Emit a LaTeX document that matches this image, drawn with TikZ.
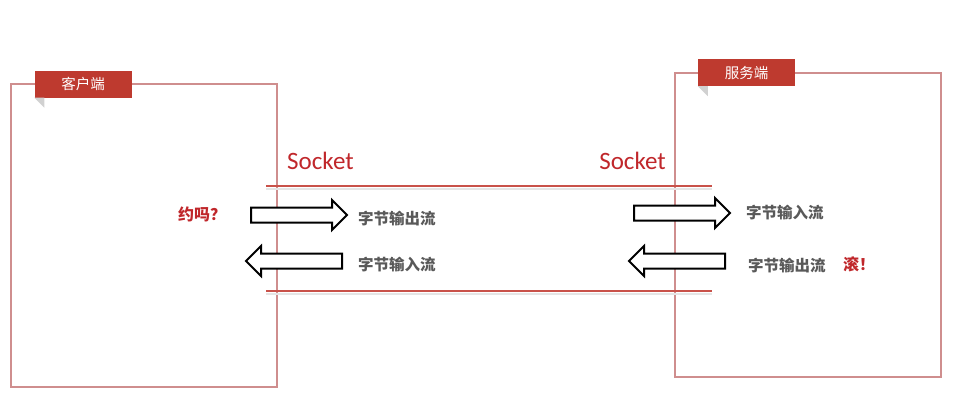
\documentclass[tikz,border=0pt]{standalone}
\usepackage{fontspec}
\setmainfont{Carlito}
\newfontfamily\cjk{Noto Sans CJK SC}
\usetikzlibrary{shapes.arrows}

\definecolor{tagred}{HTML}{BE3A2F}
\definecolor{sockred}{HTML}{C0272B}
\definecolor{linered}{HTML}{C9524A}
\definecolor{panelred}{HTML}{CF8E8E}
\definecolor{textgray}{HTML}{595959}

\tikzstyle{panel}=[draw=panelred,line width=1.2pt,inner sep=0pt]
\tikzstyle{tag}=[fill=tagred,text=white,font=\cjk\fontsize{14.5}{14.5}\selectfont,minimum width=97pt,minimum height=27pt,inner sep=0pt]
\tikzstyle{fold}=[fill=black!18]
\tikzstyle{socket line}=[draw=linered,line width=2.5pt]
\tikzstyle{socket shadow}=[draw=black!10,line width=2pt]
\tikzstyle{socket}=[text=sockred,font=\fontsize{25}{25}\selectfont,inner sep=0pt]
\tikzstyle{flow}=[single arrow,draw=black,line width=2pt,fill=white,minimum height=96pt,minimum width=30pt,text height=6pt,text depth=6pt,single arrow head extend=7pt,inner sep=0pt,anchor=tail]
\tikzstyle{stream}=[text=textgray,font=\cjk\bfseries\fontsize{15.5}{15.5}\selectfont,inner sep=0pt,anchor=west]
\tikzstyle{talk}=[text=sockred,font=\cjk\bfseries\fontsize{16}{16}\selectfont,inner sep=0pt]

\begin{document}
\begin{tikzpicture}[x=1pt,y=-1pt]
		\useasboundingbox (0,0) rectangle (960,400);
		% the two hosts
		\node[panel,minimum width=266pt,minimum height=303pt] (client) at (144,235.5) {};
		\node[panel,minimum width=266pt,minimum height=304pt] (server) at (808,225) {};
		\node[tag] (clienttag) at (83,84) {客户端};
		\node[tag] (servertag) at (746.5,72.5) {服务端};
		\foreach \t in {clienttag,servertag}
		\fill[fold] (\t.south west) -- ++(10,0) -- ++(0,10) -- cycle;
		% socket pipe
		\coordinate (tl) at (266,186);
		\coordinate (tr) at (712,186);
		\coordinate (bl) at (266,291);
		\coordinate (br) at (712,291);
		\foreach \a/\b in {tl/tr, bl/br} {
		\path[socket shadow] ([yshift=-2.5pt]\a) -- ([yshift=-2.5pt]\b);
		\path[socket line] (\a) -- (\b);
		}
		\node[socket,anchor=base west] (csock) at (287,169) {Socket};
		\node[socket,anchor=base east] (ssock) at (666,169) {Socket};
		% byte streams
		\node[flow] (cout) at (250,215) {};
		\node[flow,shape border rotate=180] (cin) at (343,261) {};
		\node[flow] (sin) at (633,213) {};
		\node[flow,shape border rotate=180] (sout) at (726,261) {};
		\node[stream] (coutl) at (358,219) {字节输出流};
		\node[stream] (cinl) at (358,265) {字节输入流};
		\node[stream] (sinl) at (746,213) {字节输入流};
		\node[stream] (soutl) at (748,265.5) {字节输出流};
		\node[talk,anchor=west] (ask) at (178,214) {约吗？};
		\node[talk,anchor=west] (reply) at (843,264) {滚！};
\end{tikzpicture}
\end{document}
